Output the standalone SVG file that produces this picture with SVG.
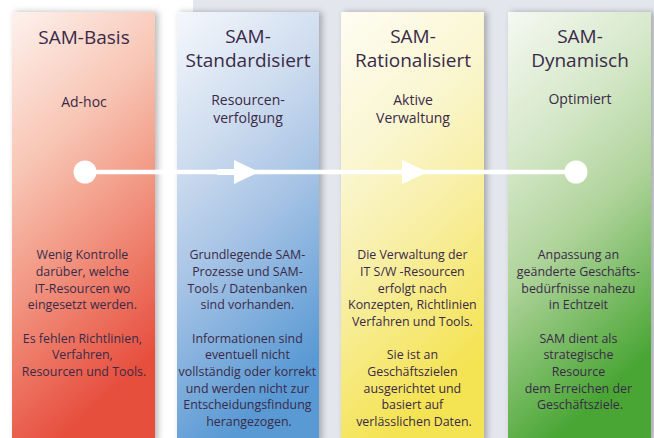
<svg xmlns="http://www.w3.org/2000/svg" width="654" height="438" viewBox="0 0 654 438">
  <defs>
    <filter id="shadow" x="-20%" y="-10%" width="140%" height="120%">
      <feDropShadow dx="3" dy="0" stdDeviation="3" flood-color="#000" flood-opacity="0.28"/>
    </filter>
    <linearGradient id="gRed" x1="0" y1="0" x2="0.3" y2="1">
      <stop offset="0" stop-color="#fdf2ee"/>
      <stop offset="0.35" stop-color="#f8c6b5"/>
      <stop offset="0.6" stop-color="#f29a86"/>
      <stop offset="1" stop-color="#e74f3e"/>
    </linearGradient>
    <linearGradient id="gBlue" x1="0" y1="0" x2="0.3" y2="1">
      <stop offset="0" stop-color="#f5f8fc"/>
      <stop offset="0.35" stop-color="#ccdbee"/>
      <stop offset="0.6" stop-color="#a6c3e5"/>
      <stop offset="1" stop-color="#5a9ad4"/>
    </linearGradient>
    <linearGradient id="gYellow" x1="0" y1="0" x2="0.3" y2="1">
      <stop offset="0" stop-color="#fefdf3"/>
      <stop offset="0.35" stop-color="#faf6d0"/>
      <stop offset="0.6" stop-color="#f8efa6"/>
      <stop offset="1" stop-color="#f4e352"/>
    </linearGradient>
    <linearGradient id="gGreen" x1="0" y1="0" x2="0.3" y2="1">
      <stop offset="0" stop-color="#f6f9f2"/>
      <stop offset="0.35" stop-color="#d2e6c5"/>
      <stop offset="0.6" stop-color="#aed399"/>
      <stop offset="1" stop-color="#4aa635"/>
    </linearGradient>
    <style>
      text { font-family: "Open Sans", "Noto Sans", sans-serif; fill: #3a2a48; text-anchor: middle; }
      .title { font-size: 19px; }
      .sub { font-size: 14px; }
      .body { font-size: 12.4px; }
      .col { filter: url(#shadow); }
      .wire { stroke: #ffffff; fill: none; }
      .head { fill: #ffffff; }
    </style>
  </defs>

  <!-- page background -->
  <rect x="0" y="0" width="654" height="438" fill="#ffffff"/>
  <rect x="193" y="0" width="461" height="438" fill="#e3e7ed"/>

  <!-- stage 1 -->
  <g id="sam-basis">
    <rect class="col" x="12" y="12" width="143" height="430" fill="url(#gRed)"/>
    <text class="title" x="84" y="44">SAM-Basis</text>
    <text class="sub" x="84" y="107">Ad-hoc</text>
    <text class="body" x="84">
      <tspan x="84" y="259">Wenig Kontrolle</tspan>
      <tspan x="84" y="276">darüber, welche</tspan>
      <tspan x="84" y="293">IT-Resourcen wo</tspan>
      <tspan x="84" y="309">eingesetzt werden.</tspan>
      <tspan x="84" y="343">Es fehlen Richtlinien,</tspan>
      <tspan x="84" y="359">Verfahren,</tspan>
      <tspan x="84" y="376">Resourcen und Tools.</tspan>
    </text>
  </g>

  <!-- stage 2 -->
  <g id="sam-standardisiert">
    <rect class="col" x="177" y="12" width="142" height="430" fill="url(#gBlue)"/>
    <text class="title" x="248" y="43">SAM-</text>
    <text class="title" x="248" y="67">Standardisiert</text>
    <text class="sub" x="248" y="105">Resourcen-</text>
    <text class="sub" x="248" y="123">verfolgung</text>
    <text class="body">
      <tspan x="249" y="259">Grundlegende SAM-</tspan>
      <tspan x="249" y="276">Prozesse und SAM-</tspan>
      <tspan x="249" y="293">Tools / Datenbanken</tspan>
      <tspan x="249" y="309">sind vorhanden.</tspan>
      <tspan x="249" y="343">Informationen sind</tspan>
      <tspan x="249" y="359">eventuell nicht</tspan>
      <tspan x="249" y="376">vollständig oder korrekt</tspan>
      <tspan x="249" y="393">und werden nicht zur</tspan>
      <tspan x="249" y="409">Entscheidungsfindung</tspan>
      <tspan x="249" y="426">herangezogen.</tspan>
    </text>
  </g>

  <!-- stage 3 -->
  <g id="sam-rationalisiert">
    <rect class="col" x="341" y="12" width="143" height="430" fill="url(#gYellow)"/>
    <text class="title" x="413" y="43">SAM-</text>
    <text class="title" x="413" y="67">Rationalisiert</text>
    <text class="sub" x="413" y="105">Aktive</text>
    <text class="sub" x="413" y="123">Verwaltung</text>
    <text class="body">
      <tspan x="414" y="259">Die Verwaltung der</tspan>
      <tspan x="414" y="276">IT S/W -Resourcen</tspan>
      <tspan x="414" y="293">erfolgt nach</tspan>
      <tspan x="414" y="309">Konzepten, Richtlinien</tspan>
      <tspan x="414" y="326">Verfahren und Tools.</tspan>
      <tspan x="414" y="359">Sie ist an</tspan>
      <tspan x="414" y="376">Geschäftszielen</tspan>
      <tspan x="414" y="393">ausgerichtet und</tspan>
      <tspan x="414" y="409">basiert auf</tspan>
      <tspan x="414" y="426">verlässlichen Daten.</tspan>
    </text>
  </g>

  <!-- stage 4 -->
  <g id="sam-dynamisch">
    <rect class="col" x="508" y="12" width="143" height="430" fill="url(#gGreen)"/>
    <text class="title" x="580" y="43">SAM-</text>
    <text class="title" x="580" y="67">Dynamisch</text>
    <text class="sub" x="580" y="104">Optimiert</text>
    <text class="body">
      <tspan x="580" y="259">Anpassung an</tspan>
      <tspan x="580" y="276">geänderte Geschäfts-</tspan>
      <tspan x="580" y="293">bedürfnisse nahezu</tspan>
      <tspan x="580" y="309">in Echtzeit</tspan>
      <tspan x="580" y="343">SAM dient als</tspan>
      <tspan x="580" y="359">strategische</tspan>
      <tspan x="580" y="376">Resource</tspan>
      <tspan x="580" y="393">dem Erreichen der</tspan>
      <tspan x="580" y="409">Geschäftsziele.</tspan>
    </text>
  </g>

  <!-- progression line -->
  <g id="connectors">
    <line class="wire" x1="85" y1="172" x2="576" y2="172" stroke-width="4.5"/>
    <line class="wire" x1="217" y1="172" x2="240" y2="172" stroke-width="6"/>
    <circle class="head" cx="85" cy="172" r="11.5"/>
    <circle class="head" cx="576" cy="172" r="11.5"/>
    <polygon class="head" points="234,160 259,172 234,184"/>
    <polygon class="head" points="402,160 428,172 402,184"/>
  </g>
</svg>
